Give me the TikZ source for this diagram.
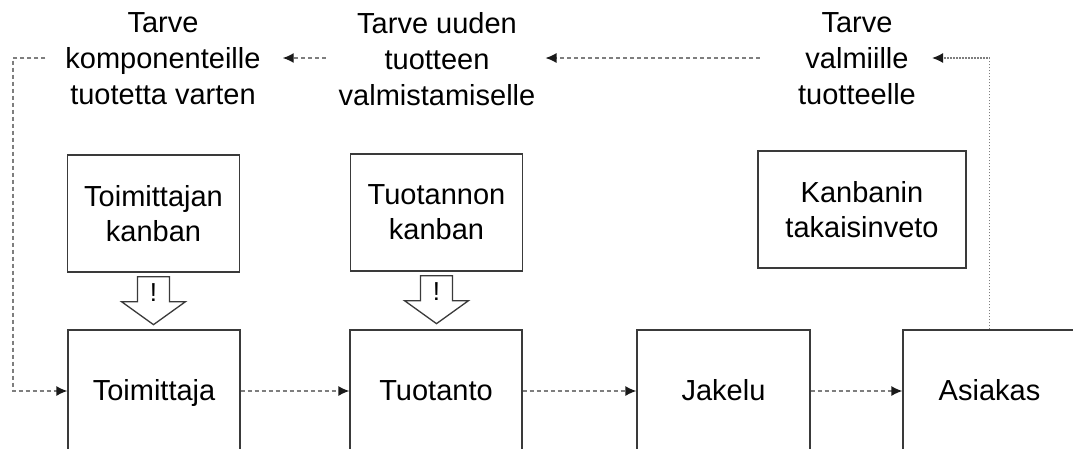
\documentclass[tikz,border=0pt]{standalone}
\usepackage{fontspec}
\setmainfont{Liberation Sans}
\usetikzlibrary{arrows.meta}
\definecolor{boxline}{HTML}{3A3A3A}
\definecolor{flowgray}{HTML}{7E7E7E}
\definecolor{tipdark}{HTML}{1A1A1A}
\begin{document}
\begin{tikzpicture}[x=1pt,y=-1pt,
  box/.style={draw=boxline, line width=1.3pt, minimum width=172pt,
    inner sep=0pt, align=center, font=\fontsize{29}{35}\selectfont},
  stage/.style={draw=boxline, line width=1.3pt, minimum width=172pt,
    minimum height=122pt, inner sep=0pt, text height=21pt, text depth=3pt,
    font=\fontsize{29}{35}\selectfont},
  lab/.style={align=center, inner sep=0pt, font=\fontsize{29}{36}\selectfont},
  flow/.style={draw=flowgray, line width=1.3pt, dash pattern=on 4pt off 3pt,
    -{Latex[length=11pt,width=10pt,color=tipdark]}},
  pull/.style={draw=flowgray, line width=1.3pt, dash pattern=on 1.5pt off 1.5pt,
    -{Latex[length=11pt,width=10pt,color=tipdark]}},
  blk/.style={draw=boxline, line width=1.3pt, fill=white, line join=miter}]
\clip (0,0) rectangle (1073,448);

% demand signals along the top
\node[lab] (ncomp) at (163,59) {Tarve\\komponenteille\\tuotetta varten};
\node[lab] (nprod) at (437,59) {Tarve uuden\\tuotteen\\valmistamiselle};
\node[lab] (nfin)  at (857,59) {Tarve\\valmiille\\tuotteelle};

% kanban cards
\node[box, minimum height=117pt] (sk) at (153.5,213.5) {Toimittajan\\kanban};
\node[box, minimum height=117pt] (pk) at (436.5,212.5) {Tuotannon\\kanban};
\node[box, minimum width=208pt, minimum height=117pt] (tk) at (862,209.5) {Kanbanin\\takaisinveto};

% supply chain stages
\node[stage] (sup) at (154,391)   {Toimittaja};
\node[stage] (pro) at (436,391)   {Tuotanto};
\node[stage, minimum width=173pt] (dis) at (723.5,391) {Jakelu};
\node[stage, minimum width=173pt] (cus) at (989.5,391) {Asiakas};

% material flow
\draw[flow] (sup.east) -- (pro.west);
\draw[flow] (pro.east) -- (dis.west);
\draw[flow] (dis.east) -- (cus.west);

% pull signals
\draw[pull] (cus.north) |- ([xshift=16pt,yshift=1pt]nfin.east);
\draw[flow] ([xshift=-38pt,yshift=1pt]nfin.west) -- ([xshift=10pt,yshift=1pt]nprod.east);
\draw[flow] ([xshift=-13pt,yshift=1pt]nprod.west) -- ([xshift=22pt,yshift=1pt]ncomp.east);
\coordinate (lcorner) at (13,391);
\draw[flow] ([xshift=-20pt,yshift=1pt]ncomp.west) -| (lcorner) -- (sup.west);

% kanban release arrows
\foreach \k in {sk,pk}{
  \draw[blk] ([yshift=-4pt]\k.south) ++(-16,0) -- ++(0,25) -- ++(-16,0)
    -- ++(32,23) -- ++(32,-23) -- ++(-16,0) -- ++(0,-25) -- cycle;
  \node[inner sep=0pt, font=\fontsize{26}{30}\selectfont]
    (\k mark) at ([yshift=-20pt]\k.south) {!};
}
\end{tikzpicture}
\end{document}
